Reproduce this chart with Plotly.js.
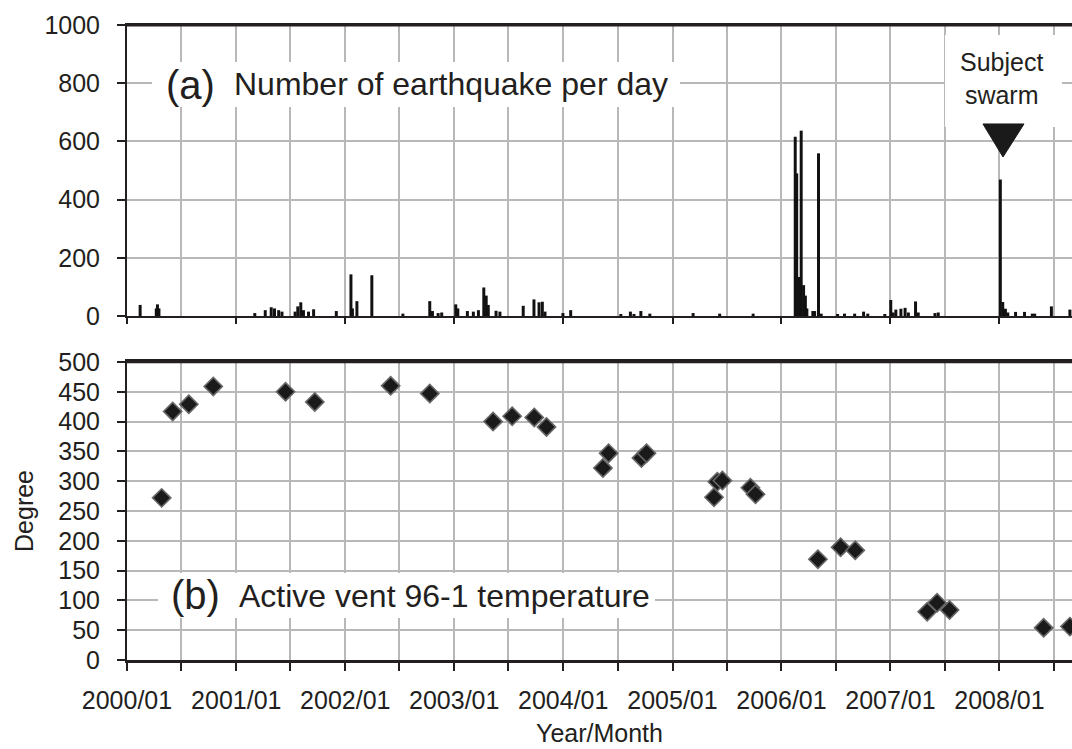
<!DOCTYPE html>
<html>
<head>
<meta charset="utf-8">
<script src="https://cdn.plot.ly/plotly-3.0.1.min.js"></script>
<style>
  html, body { margin: 0; padding: 0; background: #fff; }
  #chart { width: 1072px; height: 749px; }
</style>
</head>
<body>
<div id="chart"></div>
<script>
// (a) Number of earthquakes per day (visible daily counts)
const quakeDates = [
  '2000-02-14','2000-04-08','2000-04-12','2000-04-17','2001-03-04','2001-04-08','2001-04-28','2001-05-09',
  '2001-05-23','2001-06-03','2001-07-17','2001-07-26','2001-08-05','2001-08-14','2001-08-31','2001-09-17',
  '2001-12-02','2002-01-20','2002-01-25','2002-02-09','2002-03-31','2002-07-13','2002-10-11','2002-10-20',
  '2002-11-08','2002-11-20','2003-01-06','2003-01-13','2003-02-14','2003-03-06','2003-03-23','2003-04-10',
  '2003-04-18','2003-04-25','2003-05-21','2003-06-03','2003-08-20','2003-09-25','2003-10-12','2003-10-23',
  '2003-11-01','2003-12-31','2004-01-26','2004-07-12','2004-08-13','2004-08-25','2004-09-17','2004-10-17',
  '2005-03-11','2005-06-08','2005-09-28','2006-02-16','2006-02-21','2006-03-02','2006-03-08','2006-03-16',
  '2006-03-22','2006-03-27','2006-04-16','2006-04-22','2006-05-05','2006-05-14','2006-07-08','2006-07-31',
  '2006-09-03','2006-10-03','2006-10-17','2006-12-13','2007-01-02','2007-01-10','2007-01-19','2007-02-05',
  '2007-02-19','2007-03-02','2007-03-26','2007-04-04','2007-05-30','2007-06-10','2008-01-04','2008-01-12',
  '2008-01-21','2008-01-29','2008-02-24','2008-03-25','2008-04-20','2008-04-28','2008-06-23','2008-08-24'
];
const quakeCounts = [
  38, 26, 40, 26, 10, 20, 30, 26,
  20, 15, 15, 33, 47, 20, 15, 23,
  17, 143, 26, 51, 140, 8, 51, 17,
  10, 12, 40, 26, 17, 15, 20, 98,
  70, 38, 18, 15, 35, 57, 47, 49,
  15, 10, 20, 5, 15, 7, 17, 8,
  10, 8, 8, 616, 490, 134, 637, 106,
  70, 26, 17, 17, 559, 8, 5, 8,
  8, 15, 8, 5, 55, 12, 22, 25,
  28, 12, 50, 12, 10, 12, 469, 48,
  25, 12, 14, 14, 8, 8, 33, 22
];

// (b) Active vent 96-1 temperature (degrees)
const ventDates = [
  '2000-04-26','2000-06-02','2000-07-26','2000-10-16','2001-06-15','2001-09-21','2002-06-02','2002-10-11',
  '2003-05-11','2003-07-14','2003-09-26','2003-11-06','2004-05-13','2004-06-01','2004-09-19','2004-10-06',
  '2005-05-20','2005-05-31','2005-06-17','2005-09-19','2005-10-06','2006-05-03','2006-07-18','2006-09-05',
  '2007-05-04','2007-06-06','2007-07-18','2008-05-28','2008-08-24'
];
const ventTemps = [
  272, 417, 429, 459, 450, 433, 460, 447,
  400, 409, 407, 391, 322, 347, 339, 347,
  273, 299, 301, 289, 278, 169, 189, 184,
  81, 96, 84, 54, 56
];

// Axis ticks
const halfYearTicks = [
  '2000-01-01','2000-07-01','2001-01-01','2001-07-01','2002-01-01','2002-07-01','2003-01-01','2003-07-01',
  '2004-01-01','2004-07-01','2005-01-01','2005-07-01','2006-01-01','2006-07-01','2007-01-01','2007-07-01',
  '2008-01-01','2008-07-01'
];
const halfYearLabels = [
  '2000/01','','2001/01','','2002/01','','2003/01','',
  '2004/01','','2005/01','','2006/01','','2007/01','',
  '2008/01',''
];
const yearTicks = ['2000-01-01','2001-01-01','2002-01-01','2003-01-01','2004-01-01','2005-01-01','2006-01-01','2007-01-01','2008-01-01'];
const xRange = ['2000-01-01', '2008-08-31'];

const FONT = 'Liberation Sans, Arial, Helvetica, sans-serif';
const TXT = '#231f20';
const GRID = '#b8b8b8';
const TOP_DOMAIN = [0.5409, 0.9984];
const BOTTOM_DOMAIN = [0, 0.4686];
const PX = 1 / 636; // one pixel in paper units (plot height 636 px)

const traces = [
  {
    type: 'bar', x: quakeDates, y: quakeCounts, xaxis: 'x', yaxis: 'y',
    width: 10 * 86400000,
    marker: { color: '#111' },
    hoverinfo: 'x+y', showlegend: false
  },
  {
    type: 'scatter', mode: 'markers', x: ventDates, y: ventTemps, xaxis: 'x2', yaxis: 'y2',
    marker: { symbol: 'diamond', size: 14, color: '#1a1a1a', line: { color: '#666', width: 1.6 } },
    showlegend: false
  }
];

const layout = {
  width: 1072, height: 749,
  margin: { l: 127, r: 0, t: 24, b: 89 },
  paper_bgcolor: '#fff', plot_bgcolor: '#fff',
  font: { family: FONT, color: TXT, size: 25 },
  showlegend: false,
  xaxis: {
    type: 'date', range: xRange, anchor: 'y', domain: [0, 1],
    tickvals: yearTicks, showticklabels: false,
    ticks: 'outside', ticklen: 6, tickwidth: 1.5, tickcolor: TXT,
    showgrid: true, gridcolor: GRID, gridwidth: 1.5,
    minor: { tickvals: halfYearTicks, showgrid: true, gridcolor: GRID, gridwidth: 1.5, ticks: '' },
    showline: true, linecolor: TXT, linewidth: 2, mirror: true, zeroline: false
  },
  yaxis: {
    domain: TOP_DOMAIN, anchor: 'x', range: [0, 1000], dtick: 200,
    ticks: 'outside', ticklen: 8, tickwidth: 1.5, tickcolor: TXT,
    ticklabelstandoff: 12,
    tickfont: { size: 25, color: TXT, family: FONT },
    showgrid: true, gridcolor: GRID, gridwidth: 1.5,
    showline: true, linecolor: TXT, linewidth: 2, zeroline: false
  },
  xaxis2: {
    type: 'date', range: xRange, anchor: 'y2', domain: [0, 1],
    tickvals: halfYearTicks, ticktext: halfYearLabels,
    ticks: 'outside', ticklen: 8, tickwidth: 1.5, tickcolor: TXT,
    ticklabelstandoff: 8,
    tickfont: { size: 25, color: TXT, family: FONT },
    showgrid: true, gridcolor: GRID, gridwidth: 1.5,
    showline: true, linecolor: TXT, linewidth: 3, mirror: true, zeroline: false,
    title: { text: 'Year/Month', font: { size: 25, color: TXT, family: FONT }, standoff: 12 }
  },
  yaxis2: {
    domain: BOTTOM_DOMAIN, anchor: 'x2', range: [0, 500], dtick: 50,
    ticks: 'outside', ticklen: 8, tickwidth: 1.5, tickcolor: TXT,
    ticklabelstandoff: 12,
    tickfont: { size: 25, color: TXT, family: FONT },
    showgrid: true, gridcolor: GRID, gridwidth: 1.5,
    showline: true, linecolor: TXT, linewidth: 2, zeroline: false,
    title: { text: 'Degree', font: { size: 25, color: TXT, family: FONT }, standoff: 18 }
  },
  shapes: [
    // top borders of both panels (thin filled strips)
    { type: 'rect', xref: 'paper', yref: 'paper', x0: -0.001, x1: 1,
      y0: TOP_DOMAIN[1] - 1.5 * PX, y1: TOP_DOMAIN[1] + 1.0 * PX,
      fillcolor: TXT, line: { width: 0 }, layer: 'above' },
    { type: 'rect', xref: 'paper', yref: 'paper', x0: -0.001, x1: 1,
      y0: BOTTOM_DOMAIN[1] - 1.2 * PX, y1: BOTTOM_DOMAIN[1] + 1.2 * PX,
      fillcolor: TXT, line: { width: 0 }, layer: 'above' },
    // white label boxes (no data inside them)
    { type: 'rect', xref: 'paper', yref: 'paper', x0: 0.0265, x1: 0.5852, y0: 0.8695, y1: 0.9403,
      fillcolor: '#fff', line: { width: 0 }, layer: 'above' },
    { type: 'rect', xref: 'paper', yref: 'paper', x0: 0.0328, x1: 0.5587, y0: 0.066, y1: 0.1368,
      fillcolor: '#fff', line: { width: 0 }, layer: 'above' },
    { type: 'rect', xref: 'paper', yref: 'paper', x0: 0.8656, x1: 0.9894, y0: 0.838, y1: 0.9827,
      fillcolor: '#fff', line: { width: 0 }, layer: 'above' },
    // marker arrow for the subject swarm
    { type: 'path', xref: 'paper', yref: 'paper',
      path: 'M 0.9058 0.8428 L 0.9492 0.8428 L 0.927 0.7909 Z',
      fillcolor: '#1a1a1a', line: { color: '#1a1a1a', width: 1 }, layer: 'above' }
  ],
  annotations: [
    { xref: 'paper', yref: 'paper', x: 0.0667, y: 0.904, xanchor: 'center', yanchor: 'middle',
      text: '(a)', showarrow: false, font: { size: 40, color: TXT, family: FONT } },
    { xref: 'paper', yref: 'paper', x: 0.111, y: 0.9057, xanchor: 'left', yanchor: 'middle',
      text: 'Number of earthquake per day', showarrow: false, font: { size: 32, color: TXT, family: FONT } },
    { xref: 'paper', yref: 'paper', x: 0.073, y: 0.1022, xanchor: 'center', yanchor: 'middle',
      text: '(b)', showarrow: false, font: { size: 40, color: TXT, family: FONT } },
    { xref: 'paper', yref: 'paper', x: 0.1165, y: 0.1006, xanchor: 'left', yanchor: 'middle',
      text: 'Active vent 96-1 temperature', showarrow: false, font: { size: 32, color: TXT, family: FONT } },
    { xref: 'paper', yref: 'paper', x: 0.9249, y: 0.915, xanchor: 'center', yanchor: 'middle',
      text: 'Subject<br>swarm', showarrow: false, font: { size: 25, color: TXT, family: FONT } }
  ]
};

Plotly.newPlot('chart', traces, layout, { displayModeBar: false, responsive: false });
</script>
</body>
</html>
